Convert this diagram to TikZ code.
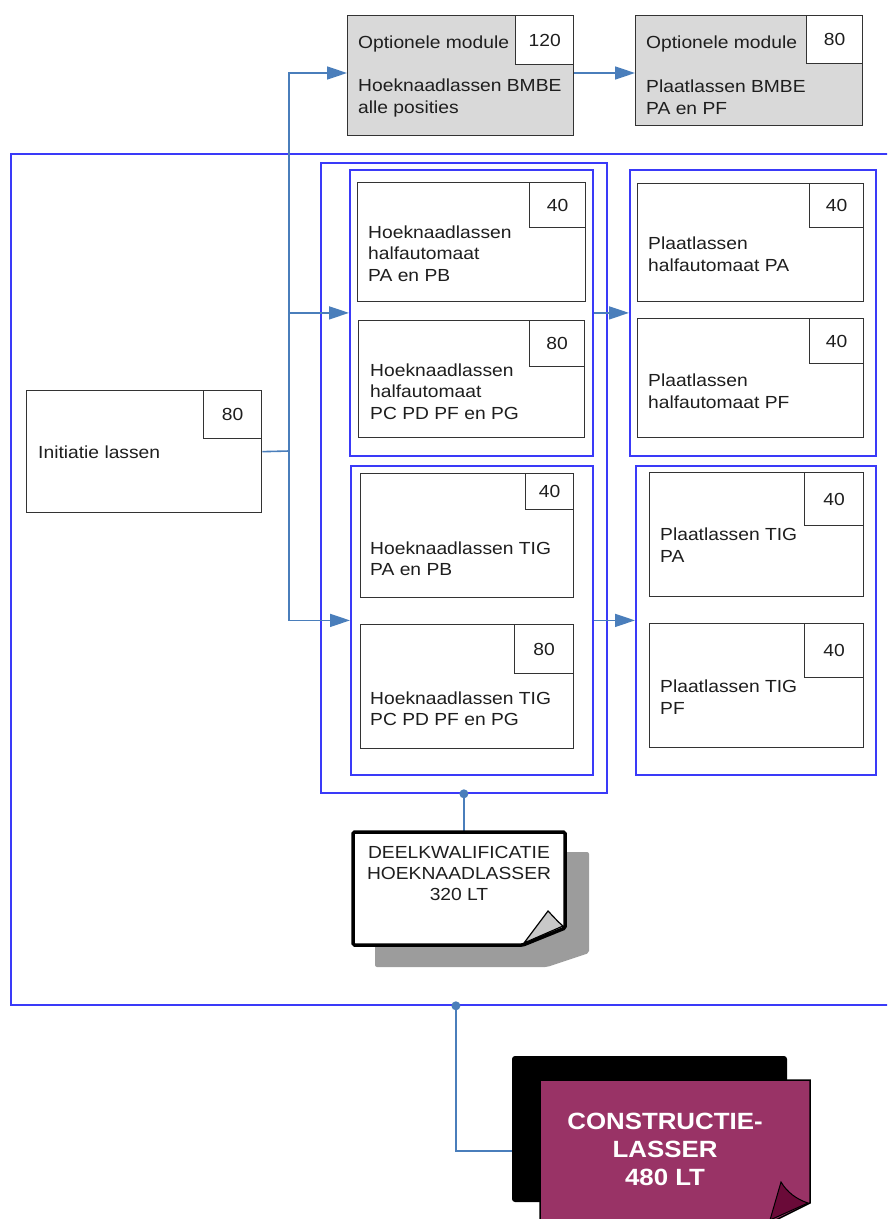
\documentclass[tikz,border=0pt]{standalone}
\usepackage{fontspec}
\setmainfont{Liberation Sans}[FakeStretch=1.1]
\usetikzlibrary{arrows.meta}
\definecolor{grp}{HTML}{3A3AF8}
\definecolor{con}{HTML}{4A7EBB}
\definecolor{txt}{HTML}{1E1E1E}
\definecolor{wine}{HTML}{993366}
\definecolor{darkwine}{HTML}{6A0A38}
\definecolor{optfill}{HTML}{D9D9D9}
\definecolor{shadowgray}{HTML}{9C9C9C}
\definecolor{curlgray}{HTML}{C8C8C8}
\tikzset{
  card/.style={draw=black!80, line width=1.3pt, fill=white, inner sep=0pt, anchor=north west},
  optcard/.style={card, fill=optfill},
  numbox/.style={draw=black!80, line width=1.3pt, fill=white, inner sep=0pt, anchor=north east, text=txt, font=\fontsize{17.5}{21}\selectfont},
  group/.style={draw=grp, line width=1.8pt, inner sep=0pt, anchor=north west},
  lbl/.style={anchor=west, inner sep=0pt, align=left, text=txt, font=\fontsize{17.5}{21.5}\selectfont},
  conn/.style={draw=con, line width=1.6pt},
  arr/.style={conn, -{Triangle[length=20pt,width=13pt]}},
}
\begin{document}
\begin{tikzpicture}[x=1pt, y=-1pt]
\path[use as bounding box, clip] (0,0) rectangle (887,1219);

% groups
\node[group, minimum width=890, minimum height=851] (big) at (10,153) {};
\node[group, minimum width=286, minimum height=630] (grpL) at (320,162) {};
\node[group, minimum width=243, minimum height=286] (sub1) at (349,169) {};
\node[group, minimum width=242, minimum height=309] (sub2) at (350,465) {};
\node[group, minimum width=246, minimum height=286] (box3) at (629,169) {};
\node[group, minimum width=240, minimum height=309] (box4) at (635,465) {};

% optional modules
\node[optcard, minimum width=226, minimum height=120] (opt120) at (347,15) {};
\node[numbox, minimum width=58, minimum height=49] (n120) at (opt120.north east) {120};
\node[lbl] (t120a) at (358,44) {Optionele module};
\node[lbl] (t120b) at (358,98) {Hoeknaadlassen BMBE\\alle posities};

\node[optcard, minimum width=227, minimum height=110] (opt80) at (635,15) {};
\node[numbox, minimum width=56, minimum height=48] (n80) at (opt80.north east) {80};
\node[lbl] (t80a) at (646,44) {Optionele module};
\node[lbl] (t80b) at (646,97) {Plaatlassen BMBE\\PA en PF};

% initiatie
\node[card, minimum width=235, minimum height=122] (init) at (26,390) {};
\node[numbox, minimum width=58, minimum height=48] (ninit) at (init.north east) {80};
\node[lbl] (tinit) at (38,452) {Initiatie lassen};

% connectors
\coordinate (j1) at (289,451);
\coordinate (topturn) at (289,73);
\draw[conn] (init.east) -- (j1);
\draw[conn] (288.3,451) -- (288.3,550);
\draw[arr] (j1) -- (topturn) -- (topturn -| opt120.west);
\draw[arr] (j1) |- (sub1.west);
\draw[arr] (j1) |- (sub2.west);
\draw[arr] (sub1.east) -- (box3.west);
\draw[arr] (sub2.east) -- (box4.west);
\draw[arr] (topturn -| opt120.east) -- (topturn -| opt80.west);

% cards left column
\node[card, minimum width=228, minimum height=119] (cA) at (357,182) {};
\node[numbox, minimum width=56, minimum height=45] (nA) at (cA.north east) {40};
\node[lbl] (tA) at (368,253.5) {Hoeknaadlassen\\halfautomaat\\PA en PB};

\node[card, minimum width=226, minimum height=117] (cB) at (358,320) {};
\node[numbox, minimum width=55, minimum height=46] (nB) at (cB.north east) {80};
\node[lbl] (tB) at (370,391.5) {Hoeknaadlassen\\halfautomaat\\PC PD PF en PG};

\node[card, minimum width=213, minimum height=124] (cC) at (360,473) {};
\node[numbox, minimum width=48, minimum height=36] (nC) at (cC.north east) {40};
\node[lbl] (tC) at (370,558.5) {Hoeknaadlassen TIG\\PA en PB};

\node[card, minimum width=213, minimum height=124] (cD) at (360,624) {};
\node[numbox, minimum width=59, minimum height=49] (nD) at (cD.north east) {80};
\node[lbl] (tD) at (370,708.5) {Hoeknaadlassen TIG\\PC PD PF en PG};

% cards right column
\node[card, minimum width=226, minimum height=118] (cE) at (637,183) {};
\node[numbox, minimum width=54, minimum height=44] (nE) at (cE.north east) {40};
\node[lbl] (tE) at (648,254) {Plaatlassen\\halfautomaat PA};

\node[card, minimum width=226, minimum height=119] (cF) at (637,318) {};
\node[numbox, minimum width=54, minimum height=45] (nF) at (cF.north east) {40};
\node[lbl] (tF) at (648,391) {Plaatlassen\\halfautomaat PF};

\node[card, minimum width=214, minimum height=124] (cG) at (649,472) {};
\node[numbox, minimum width=59, minimum height=53] (nG) at (cG.north east) {40};
\node[lbl] (tG) at (660,545) {Plaatlassen TIG\\PA};

\node[card, minimum width=214, minimum height=124] (cH) at (649,623) {};
\node[numbox, minimum width=59, minimum height=54] (nH) at (cH.north east) {40};
\node[lbl] (tH) at (660,697) {Plaatlassen TIG\\PF};

% deelkwalificatie note
\node[inner sep=0pt, minimum width=212, minimum height=113, anchor=north west] (note) at (353,832) {};
\draw[conn] (grpL.south) -- (grpL.south |- note.north);
\fill[con] (grpL.south) circle (4.5);
\fill[shadowgray, rounded corners=2pt] (375,852) -- (589,852) -- (589,953) -- (547,967) -- (375,967) -- cycle;
\draw[black, line width=3.5pt, fill=white, rounded corners=1.5pt] (353,832) -- (565,832) -- (565,928) -- (523,945) -- (353,945) -- cycle;
\draw[black, line width=1.2pt, fill=curlgray] (524,943) -- (548,911) .. controls (553,916) and (557,921) .. (563,926) -- cycle;
\node[inner sep=0pt, align=center, text=txt, font=\fontsize{17.5}{21}\selectfont] (notetxt) at (459,873) {DEELKWALIFICATIE\\HOEKNAADLASSER\\320 LT};

% constructielasser
\node[inner sep=0pt, minimum width=270, minimum height=142, anchor=north west] (cons) at (540,1080) {};
\draw[conn] (big.south) |- (cons.west);
\fill[con] (big.south) circle (4.5);
\fill[black, rounded corners=3pt] (512,1056) rectangle (787,1202);
\draw[black, line width=1.5pt, fill=wine] (540,1080) -- (810,1080) -- (810,1203) -- (768,1224) -- (540,1224) -- cycle;
\draw[black, line width=1pt, fill=darkwine] (770,1220) -- (781,1182) .. controls (787,1192) and (796,1199) .. (808,1203) -- cycle;
\node[inner sep=0pt, align=center, text=white, font=\bfseries\fontsize{23.5}{28}\selectfont] (constxt) at (665,1149) {CONSTRUCTIE-\\LASSER\\480 LT};
\end{tikzpicture}
\end{document}
